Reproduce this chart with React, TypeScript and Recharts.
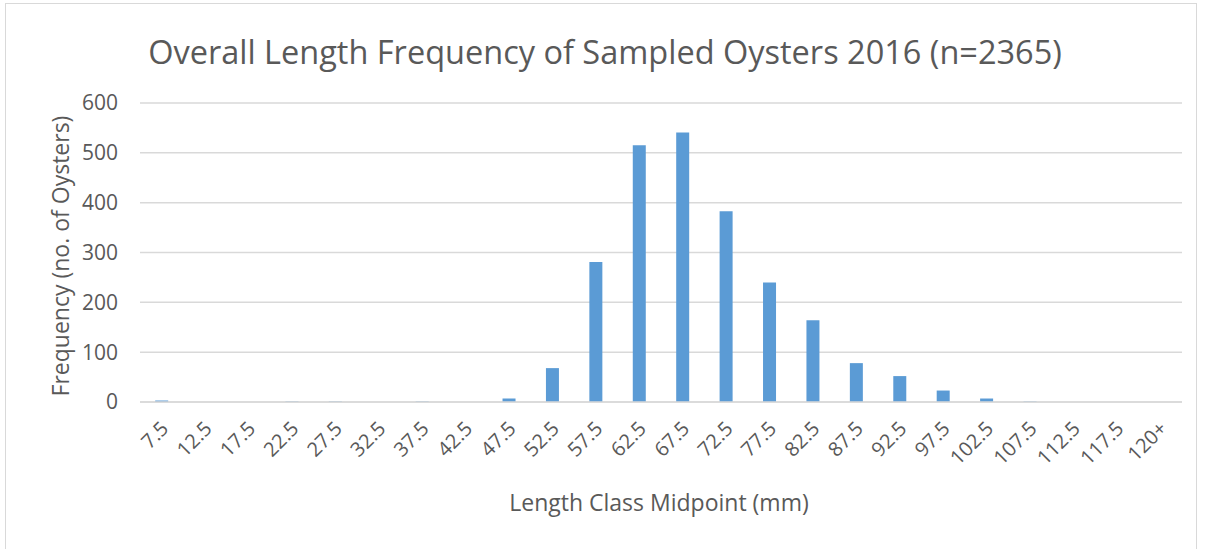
import React from "react";
import { Bar, BarChart, CartesianGrid, XAxis, YAxis } from "recharts";

// Length classes (mm midpoints) and counts
const lengthClasses = [
  "7.5", "12.5", "17.5", "22.5", "27.5", "32.5", "37.5", "42.5",
  "47.5", "52.5", "57.5", "62.5", "67.5", "72.5", "77.5", "82.5",
  "87.5", "92.5", "97.5", "102.5", "107.5", "112.5", "117.5", "120+",
];
const frequencies = [
  3, 0, 0, 1, 1, 0, 1, 0,
  7, 68, 281, 515, 541, 383, 240, 164,
  78, 52, 23, 7, 1, 0, 0, 0,
];
const yTicks = [0, 100, 200, 300, 400, 500, 600];

const data = lengthClasses.map((c, i) => ({ cls: c, freq: frequencies[i] }));

const FONT = "'Open Sans', sans-serif";
const TEXT = "#595959";
const GRID = "#d9d9d9";

function SlantTick({ x, y, payload }: { x?: number; y?: number; payload?: { value: string } }) {
  if (x === undefined || y === undefined || !payload) return null;
  return (
    <g transform={`translate(${x + 8},${y + 26})`}>
      <text
        textAnchor="end"
        transform="rotate(-45)"
        fill={TEXT}
        fontSize={20}
        fontFamily={FONT}
      >
        {payload.value}
      </text>
    </g>
  );
}

export default function App() {
  return (
    <div style={{ position: "absolute", left: 0, top: 0, width: 1205, height: 549, background: "#fff", overflow: "hidden" }}>
      <div
        style={{
          position: "absolute",
          left: 5,
          top: 3,
          width: 1192,
          height: 600,
          border: `1px solid ${GRID}`,
          boxSizing: "border-box",
        }}
      />
      <div
        style={{
          position: "absolute",
          left: 605,
          top: 51,
          transform: "translate(-50%, -50%)",
          fontFamily: FONT,
          fontSize: 32.5,
          color: TEXT,
          whiteSpace: "nowrap",
        }}
      >
        Overall Length Frequency of Sampled Oysters 2016 (n=2365)
      </div>
      <div
        style={{
          position: "absolute",
          left: 60,
          top: 256,
          transform: "translate(-50%, -50%) rotate(-90deg)",
          fontFamily: FONT,
          fontSize: 23,
          color: TEXT,
          whiteSpace: "nowrap",
        }}
      >
        Frequency (no. of Oysters)
      </div>
      <div
        style={{
          position: "absolute",
          left: 659,
          top: 502,
          transform: "translate(-50%, -50%)",
          fontFamily: FONT,
          fontSize: 23,
          color: TEXT,
          whiteSpace: "nowrap",
        }}
      >
        Length Class Midpoint (mm)
      </div>
      <div style={{ position: "absolute", left: 0, top: 0 }}>
        <BarChart
          width={1205}
          height={549}
          data={data}
          margin={{ top: 103, right: 23, bottom: 87, left: 80 }}
          barCategoryGap="35%"
          accessibilityLayer={false}
        >
          <CartesianGrid vertical={false} stroke={GRID} strokeWidth={1.5} />
          <XAxis
            dataKey="cls"
            interval={0}
            tickLine={false}
            tickSize={0}
            axisLine={{ stroke: GRID, strokeWidth: 1.5 }}
            tick={<SlantTick />}
            height={60}
          />
          <YAxis
            domain={[0, 600]}
            ticks={yTicks}
            tickLine={false}
            axisLine={false}
            tickSize={0}
            tickMargin={22}
            width={60}
            tick={{ fill: TEXT, fontSize: 21, fontFamily: FONT }}
          />
          <Bar dataKey="freq" fill="#5b9bd5" isAnimationActive={false} />
        </BarChart>
      </div>
    </div>
  );
}
